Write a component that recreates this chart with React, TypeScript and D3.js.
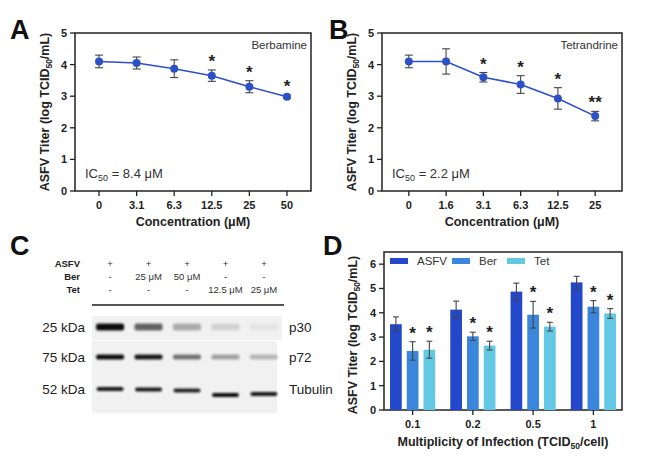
import React from "react";
import * as d3 from "d3";

// Panel A (Berbamine)
const concA = ["0", "3.1", "6.3", "12.5", "25", "50"];
const titerA = [4.1, 4.05, 3.87, 3.65, 3.3, 2.98];
const errA = [0.2, 0.19, 0.28, 0.18, 0.19, 0.05];
const sigA = ["", "", "", "*", "*", "*"];

// Panel B (Tetrandrine)
const concB = ["0", "1.6", "3.1", "6.3", "12.5", "25"];
const titerB = [4.1, 4.1, 3.6, 3.37, 2.93, 2.37];
const errB = [0.2, 0.4, 0.15, 0.28, 0.34, 0.15];
const sigB = ["", "", "*", "*", "*", "**"];

// Panel C (Western blot)
const blotASFV = ["+", "+", "+", "+", "+"];
const blotBer = ["-", "25 μM", "50 μM", "-", "-"];
const blotTet = ["-", "-", "-", "12.5 μM", "25 μM"];
const bandP30 = [1.0, 0.62, 0.3, 0.13, 0.05];
const bandP72 = [1.0, 0.95, 0.55, 0.35, 0.25];
const bandTub = [0.95, 0.95, 0.9, 1.0, 0.95];

// Panel D
const moi = ["0.1", "0.2", "0.5", "1"];
const seriesD = ["ASFV", "Ber", "Tet"];
const valASFV = [3.53, 4.13, 4.87, 5.25];
const valBer = [2.43, 3.03, 3.92, 4.25];
const valTet = [2.48, 2.65, 3.43, 3.97];
const errASFV = [0.3, 0.35, 0.35, 0.25];
const errBer = [0.38, 0.17, 0.55, 0.25];
const errTet = [0.35, 0.18, 0.18, 0.2];
const sigBer = ["*", "*", "*", "*"];
const sigTet = ["*", "*", "*", "*"];
const yTicksLine = [0, 1, 2, 3, 4, 5];
const yTicksD = [0, 1, 2, 3, 4, 5, 6];

const FONT = "'Liberation Sans', Arial, sans-serif";
const LINE = "#2b50c8";
const COLORS = ["#2448cc", "#3a86dc", "#62c8e4"];
const ERR = "#444";

function YTitle({ x, y }: { x: number; y: number }) {
  return (
    <text
      transform={`translate(${x},${y}) rotate(-90)`}
      textAnchor="middle"
      fontFamily={FONT}
      fontWeight="bold"
      fontSize={12.5}
      fill="#222"
    >
      ASFV Titer (log TCID
      <tspan fontSize={8.5} dy={3}>50</tspan>
      <tspan dy={-3}>/mL)</tspan>
    </text>
  );
}

function LinePanel({
  left, right, top, bottom, cats, vals, errs, sig, padding, label, ic50, letter, letterX,
}: any) {
  const x = d3.scalePoint<string>().domain(cats).range([left, right]).padding(padding);
  const y = d3.scaleLinear().domain([0, 5]).range([bottom, top]);
  const line = d3
    .line<number>()
    .x((_, i) => x(cats[i])!)
    .y((d) => y(d));
  return (
    <g fontFamily={FONT}>
      <text x={letterX} y={top + 6} fontSize={27} fontWeight="bold" fill="#111">{letter}</text>
      <rect x={left} y={top} width={right - left} height={bottom - top} fill="none" stroke="#222" strokeWidth={1.5} />
      {yTicksLine.map((t) => (
        <g key={t}>
          <line x1={left - 5} x2={left} y1={y(t)} y2={y(t)} stroke="#222" strokeWidth={1.3} />
          <text x={left - 8} y={y(t) + 4} textAnchor="end" fontSize={11} fontWeight="bold" fill="#222">{t}</text>
        </g>
      ))}
      {cats.map((c: string) => (
        <g key={c}>
          <line x1={x(c)} x2={x(c)} y1={bottom} y2={bottom + 5} stroke="#222" strokeWidth={1.3} />
          <text x={x(c)} y={bottom + 18} textAnchor="middle" fontSize={11} fontWeight="bold" fill="#222">{c}</text>
        </g>
      ))}
      <text x={(left + right) / 2} y={bottom + 35} textAnchor="middle" fontSize={12.5} fontWeight="bold" fill="#222">
        Concentration (μM)
      </text>
      <YTitle x={left - 26} y={(top + bottom) / 2} />
      <path d={line(vals) || ""} fill="none" stroke={LINE} strokeWidth={1.6} />
      {vals.map((v: number, i: number) => {
        const cx = x(cats[i])!;
        return (
          <g key={i}>
            <line x1={cx} x2={cx} y1={y(v - errs[i])} y2={y(v + errs[i])} stroke={ERR} strokeWidth={1.1} />
            <line x1={cx - 4} x2={cx + 4} y1={y(v - errs[i])} y2={y(v - errs[i])} stroke={ERR} strokeWidth={1.1} />
            <line x1={cx - 4} x2={cx + 4} y1={y(v + errs[i])} y2={y(v + errs[i])} stroke={ERR} strokeWidth={1.1} />
            <circle cx={cx} cy={y(v)} r={4} fill={LINE} />
            {sig[i] && (
              <text x={cx} y={y(v + errs[i]) - 3} textAnchor="middle" fontSize={17} fontWeight="bold" fill="#222">
                {sig[i]}
              </text>
            )}
          </g>
        );
      })}
      <text x={right - 4} y={top + 16} textAnchor="end" fontSize={11.5} fill="#333">{label}</text>
      <text x={left + 10} y={bottom - 13} fontSize={13} fill="#333">
        IC<tspan fontSize={9} dy={3}>50</tspan>
        <tspan dy={-3}> = {ic50} μM</tspan>
      </text>
    </g>
  );
}

function BlotPanel() {
  const lanes = d3.range(5).map(String);
  const x = d3.scalePoint<string>().domain(lanes).range([92, 282]).padding(0.47);
  const rows = [
    { label: "25 kDa", name: "p30", data: bandP30, y0: 316, y1: 340, by: 327, bh: 7, bw: 28, shift: [0, 0, 0, 0, 0] },
    { label: "75 kDa", name: "p72", data: bandP72, y0: 341, y1: 375, by: 357, bh: 5, bw: 28, shift: [0, 0, 0, 0, 0] },
    { label: "52 kDa", name: "Tubulin", data: bandTub, y0: 375, y1: 413, by: 389, bh: 4, bw: 27, shift: [0, 0.5, 1.5, 6, 5] },
  ];
  return (
    <g fontFamily={FONT}>
      <defs>
        <filter id="blur" x="-30%" y="-100%" width="160%" height="300%">
          <feGaussianBlur stdDeviation="1.3 0.9" />
        </filter>
      </defs>
      <text x={10} y={255} fontSize={27} fontWeight="bold" fill="#111">C</text>
      {[
        ["ASFV", blotASFV, 267],
        ["Ber", blotBer, 280],
        ["Tet", blotTet, 293],
      ].map(([name, arr, yy]: any) => (
        <g key={name}>
          <text x={80} y={yy} textAnchor="end" fontSize={9.5} fontWeight="bold" fill="#222">{name}</text>
          {arr.map((s: string, i: number) => (
            <text key={i} x={x(lanes[i])} y={yy} textAnchor="middle" fontSize={9.5} fill="#333">{s}</text>
          ))}
        </g>
      ))}
      <line x1={92} x2={284} y1={305} y2={305} stroke="#555" strokeWidth={2} />
      {rows.map((r) => (
        <g key={r.name}>
          <rect x={92} y={r.y0} width={r.name === "p30" ? 190 : 185} height={r.y1 - r.y0} fill="#f1f1f1" />
          <text x={85} y={r.by + 5} textAnchor="end" fontSize={13.5} fill="#222">{r.label}</text>
          <text x={289} y={r.by + 5} fontSize={13.5} fill="#222">{r.name}</text>
          {r.data.map((v, i) => (
            <rect
              key={i}
              x={x(lanes[i])! - r.bw / 2}
              y={r.by - r.bh / 2 + r.shift[i]}
              width={r.bw}
              height={r.bh}
              rx={2}
              fill="#111"
              opacity={v}
              filter="url(#blur)"
            />
          ))}
        </g>
      ))}
    </g>
  );
}

function BarPanel() {
  const left = 384, right = 622, top = 252, bottom = 410;
  const x0 = d3.scaleBand<string>().domain(moi).range([left, right]).paddingInner(0.25).paddingOuter(0.1);
  const x1 = d3.scaleBand<string>().domain(seriesD).range([0, x0.bandwidth()]).paddingInner(0.3);
  const y = d3.scaleLinear().domain([0, 6.5]).range([bottom, top]);
  const vals = [valASFV, valBer, valTet];
  const errs = [errASFV, errBer, errTet];
  const sigs = [["", "", "", ""], sigBer, sigTet];
  return (
    <g fontFamily={FONT}>
      <text x={323} y={255} fontSize={27} fontWeight="bold" fill="#111">D</text>
      <rect x={left} y={top} width={right - left} height={bottom - top} fill="none" stroke="#222" strokeWidth={1.5} />
      {yTicksD.map((t) => (
        <g key={t}>
          <line x1={left - 5} x2={left} y1={y(t)} y2={y(t)} stroke="#222" strokeWidth={1.3} />
          <text x={left - 8} y={y(t) + 4} textAnchor="end" fontSize={11} fontWeight="bold" fill="#222">{t}</text>
        </g>
      ))}
      {moi.map((m) => (
        <g key={m}>
          <line x1={x0(m)! + x0.bandwidth() / 2} x2={x0(m)! + x0.bandwidth() / 2} y1={bottom} y2={bottom + 5} stroke="#222" strokeWidth={1.3} />
          <text x={x0(m)! + x0.bandwidth() / 2} y={bottom + 18} textAnchor="middle" fontSize={11} fontWeight="bold" fill="#222">{m}</text>
        </g>
      ))}
      <text x={(left + right) / 2} y={bottom + 36} textAnchor="middle" fontSize={12.5} fontWeight="bold" fill="#222">
        Multiplicity of Infection (TCID<tspan fontSize={8.5} dy={3}>50</tspan>
        <tspan dy={-3}>/cell)</tspan>
      </text>
      <YTitle x={left - 27} y={(top + bottom) / 2 + 4} />
      {moi.map((m, gi) => (
        <g key={m}>
          {seriesD.map((s, si) => {
            const bx = x0(m)! + x1(s)!;
            const bw = x1.bandwidth();
            const v = vals[si][gi];
            const e = errs[si][gi];
            const cx = bx + bw / 2;
            return (
              <g key={s}>
                <rect x={bx} y={y(v)} width={bw} height={bottom - y(v)} fill={COLORS[si]} />
                <line x1={cx} x2={cx} y1={y(v - e)} y2={y(v + e)} stroke={ERR} strokeWidth={1.1} />
                <line x1={cx - 3} x2={cx + 3} y1={y(v - e)} y2={y(v - e)} stroke={ERR} strokeWidth={1.1} />
                <line x1={cx - 3} x2={cx + 3} y1={y(v + e)} y2={y(v + e)} stroke={ERR} strokeWidth={1.1} />
                {sigs[si][gi] && (
                  <text x={cx} y={y(v + e) - 3} textAnchor="middle" fontSize={17} fontWeight="bold" fill="#222">
                    {sigs[si][gi]}
                  </text>
                )}
              </g>
            );
          })}
        </g>
      ))}
      {seriesD.map((s, si) => {
        const lx = [390, 452, 507][si];
        return (
          <g key={s}>
            <rect x={lx} y={258} width={18} height={6} fill={COLORS[si]} />
            <text x={lx + 27} y={265} fontSize={11.5} fill="#333">{s}</text>
          </g>
        );
      })}
    </g>
  );
}

export default function App() {
  return (
    <svg width={669} height={476} style={{ position: "absolute", left: 0, top: 0, background: "#fff" }}>
      <rect width={669} height={476} fill="#fff" />
      <LinePanel left={75} right={311} top={33} bottom={191} cats={concA} vals={titerA} errs={errA} sig={sigA}
        padding={0.64} label="Berbamine" ic50="8.4" letter="A" letterX={10} />
      <LinePanel left={382} right={622} top={33} bottom={191} cats={concB} vals={titerB} errs={errB} sig={sigB}
        padding={0.72} label="Tetrandrine" ic50="2.2" letter="B" letterX={329} />
      <BlotPanel />
      <BarPanel />
    </svg>
  );
}
